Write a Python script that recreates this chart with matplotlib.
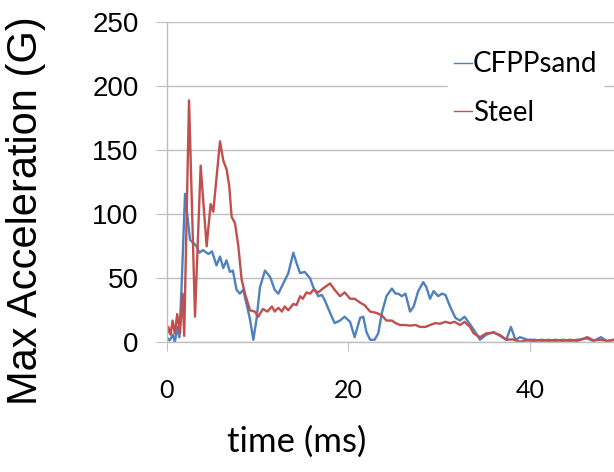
import matplotlib
matplotlib.use("Agg")
import matplotlib.pyplot as plt

# CFPPsand (blue)
t_cf = [0, 0.33, 0.7, 0.9, 1.2, 1.4, 1.65, 2.03, 2.58, 2.9, 3.3, 3.6, 4.0, 4.6, 5.0,
        5.5, 5.88, 6.24, 6.6, 6.97, 7.3, 7.7, 8.07, 8.44, 8.8, 9.18, 9.55, 9.9, 10.28,
        10.83, 11.4, 11.9, 12.3, 12.85, 13.4, 13.95, 14.3, 14.7, 15.2, 15.8, 16.15,
        16.7, 17.1, 17.4, 18.0, 18.5, 19.1, 19.6, 20.2, 20.7, 21.3, 21.65, 22.0, 22.4,
        22.9, 23.3, 23.7, 24.2, 24.8, 25.2, 25.5, 25.9, 26.3, 26.8, 27.2, 27.7, 28.25,
        28.6, 29.0, 29.4, 29.9, 30.3, 30.7, 31.2, 31.8, 32.3, 32.8, 33.3, 33.8, 34.5,
        35.2, 36.0, 36.7, 37.4, 37.9, 38.4, 38.9, 39.7, 40.5, 41.3, 42.0, 42.8, 43.6,
        44.4, 45.2, 46.3, 47.0, 47.8, 48.5, 49.3]
v_cf = [4, 1.5, 6, 0, 12, 4, 43, 116, 80, 78, 75, 70, 72, 69, 71,
        60, 67, 58, 64, 55, 56, 41, 38, 41, 30, 18, 2, 18, 43,
        56, 51, 41, 38, 46, 54, 70, 62, 54, 55, 50, 43,
        36, 37, 33, 23, 15, 17, 20, 16, 4, 19, 20, 8, 2,
        2, 7, 23, 36, 42, 38, 38, 36, 38, 24, 28, 40, 47,
        43, 34, 40, 36, 38, 37, 28, 19, 17, 20, 15, 10, 2,
        6, 8, 5, 2, 12, 2, 4, 2, 2, 1, 2, 1, 2,
        1, 2, 3, 1, 4, 1, 2]

# Steel (red)
t_st = [0, 0.2, 0.44, 0.66, 0.9, 1.17, 1.47, 1.76, 1.94, 2.47, 3.13, 3.75, 4.41, 4.85,
        5.14, 5.88, 6.24, 6.61, 6.9, 7.16, 7.53, 7.9, 8.26, 8.63, 9.18, 9.7, 10.1,
        10.6, 11.1, 11.6, 11.9, 12.3, 12.7, 13.0, 13.4, 13.95, 14.3, 14.7, 15.0, 15.4,
        15.8, 16.15, 16.7, 17.2, 18.0, 18.5, 19.1, 19.6, 20.2, 20.7, 21.3, 21.8, 22.4,
        23.1, 23.7, 24.2, 24.8, 25.2, 25.7, 26.3, 26.8, 27.4, 27.9, 28.5, 29.0, 29.6,
        30.1, 30.7, 31.2, 31.7, 32.3, 32.8, 33.4, 33.8, 34.5, 35.2, 36.0, 36.7, 37.4,
        38.1, 38.9, 39.7, 40.5, 41.3, 42.0, 42.8, 43.6, 44.4, 45.2, 46.3, 47.0, 47.8,
        48.5, 49.3]
v_st = [4, 12, 6, 17, 7, 22, 7, 38, 5, 189, 20, 138, 75, 108,
        102, 157, 142, 135, 122, 98, 93, 75, 49, 38, 25, 24, 20,
        26, 24, 28, 24, 27, 24, 28, 25, 30, 29, 36, 34, 39,
        38, 41, 39, 42, 46, 41, 36, 39, 34, 34, 31, 29, 24,
        23, 21, 17, 17, 15, 13.5, 13.5, 13, 13.5, 12, 12, 13.5, 15,
        14.5, 16, 15, 16, 13.5, 16, 12, 7, 4, 7, 7.5, 5.7, 2,
        2.3, 0.5, 1.5, 1, 2, 1, 2, 1, 2, 1, 4, 1.5, 2,
        1, 2]

yticks = [0, 50, 100, 150, 200, 250]
xticks = [0, 20, 40]

fig = plt.figure(figsize=(6.14, 4.72), dpi=100)
ax = fig.add_axes([0.2713, 0.2748, 0.7287, 0.678])

ax.plot(t_cf, v_cf, color="#4f81bd", lw=1.7, label="CFPPsand")
ax.plot(t_st, v_st, color="#c0504d", lw=1.7, label="Steel")

ax.set_xlim(0, 49.25)
ax.set_ylim(0, 250)
ax.set_yticks(yticks)
ax.set_xticks(xticks)
ax.yaxis.grid(True, color="#bfbfbf", lw=1)
ax.set_axisbelow(True)
for s in ["top", "right"]:
    ax.spines[s].set_visible(False)
for s in ["left", "bottom"]:
    ax.spines[s].set_color("#bfbfbf")
    ax.spines[s].set_linewidth(1)

ax.tick_params(axis="y", direction="out", length=8, color="#bfbfbf", pad=12,
               labelsize=20)
ax.tick_params(axis="x", direction="out", length=6.5, color="#bfbfbf", pad=20,
               labelsize=18)
for lb in ax.get_yticklabels():
    lb.set_family("Liberation Sans")
for lb in ax.get_xticklabels():
    lb.set_family("Lato")

ax.set_ylabel("Max Acceleration (G)", family="Liberation Sans", fontsize=30)
ax.yaxis.set_label_coords(-0.27, 0.41)
ax.set_xlabel("time (ms)", family="Lato", fontsize=25)
ax.xaxis.set_label_coords(0.2915, -0.26)

leg = ax.legend(loc="upper left", bbox_to_anchor=(0.598, 0.97), frameon=True,
                prop={"family": "Lato", "size": 20}, handlelength=0.65,
                handletextpad=0.05, labelspacing=0.8, borderpad=0.2)
leg.get_frame().set_edgecolor("white")
leg.get_frame().set_facecolor("white")
leg.get_frame().set_alpha(1)
for ln in leg.get_lines():
    ln.set_linewidth(1)

fig.savefig("out.png", dpi=100)
